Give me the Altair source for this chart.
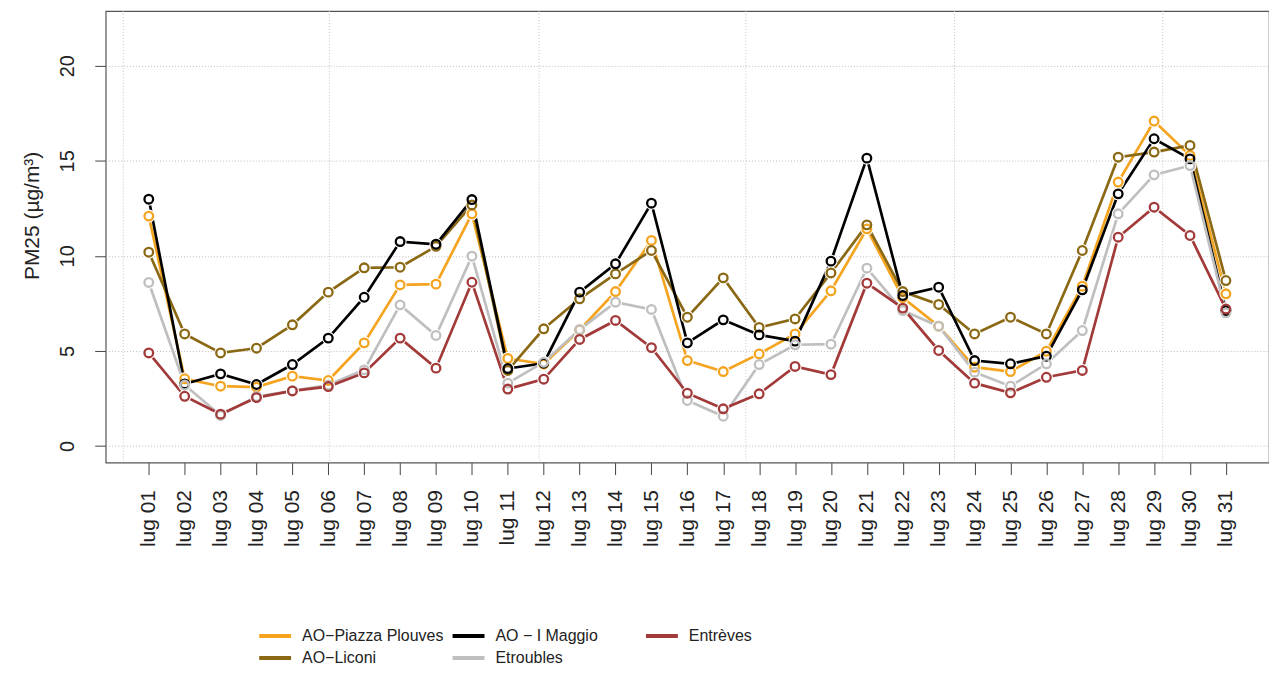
import json
import altair as alt
import pandas as pd

days = list(range(1, 32))
day_labels = [f"lug {d:02d}" for d in days]

series_names = ["AO\u2212Piazza Plouves", "AO\u2212Liconi", "AO \u2212 I Maggio", "Etroubles", "Entrèves"]
series_colors = ["#F4A41F", "#8B6914", "#000000", "#BFBFBF", "#A33A3A"]

piazza_plouves = [12.09, 3.53, 3.14, 3.09, 3.67, 3.44, 5.42, 8.47, 8.51, 12.21, 4.6, 4.3, 6.1, 8.12, 10.81,
                  4.49, 3.91, 4.84, 5.89, 8.16, 11.42, 7.8, 6.3, 4.14, 3.91, 4.98, 8.4, 13.88, 17.09, 15.28, 8.0]
liconi = [10.19, 5.89, 4.89, 5.14, 6.37, 8.09, 9.37, 9.4, 10.5, 12.68, 3.97, 6.16, 7.74, 9.05, 10.28,
          6.77, 8.84, 6.23, 6.68, 9.1, 11.63, 8.12, 7.44, 5.89, 6.77, 5.89, 10.28, 15.19, 15.46, 15.81, 8.7]
i_maggio = [12.98, 3.26, 3.79, 3.23, 4.28, 5.67, 7.82, 10.75, 10.61, 12.96, 4.07, 4.35, 8.09, 9.58, 12.77,
            5.42, 6.63, 5.84, 5.51, 9.72, 15.14, 7.91, 8.35, 4.49, 4.32, 4.72, 8.21, 13.26, 16.16, 15.1, 7.12]
etroubles = [8.6, 3.2, 1.6, 2.6, 2.9, 3.2, 4.0, 7.42, 5.81, 9.98, 3.3, 4.4, 6.12, 7.56, 7.18,
             2.39, 1.56, 4.28, 5.32, 5.35, 9.35, 7.12, 6.3, 3.88, 3.14, 4.32, 6.07, 12.21, 14.26, 14.75, 7.0]
entreves = [4.89, 2.61, 1.67, 2.54, 2.89, 3.12, 3.84, 5.67, 4.09, 8.61, 2.99, 3.51, 5.6, 6.6, 5.17,
            2.77, 1.95, 2.74, 4.18, 3.75, 8.56, 7.25, 5.02, 3.3, 2.79, 3.61, 3.97, 10.98, 12.56, 11.07, 7.2]

y_ticks = [0, 5, 10, 15, 20]
v_grid = [0.29, 6.03, 11.87, 17.63, 23.44, 29.24]

values_by_series = dict(zip(series_names, [piazza_plouves, liconi, i_maggio, etroubles, entreves]))

rows = []
for k, name in enumerate(series_names):
    for d, v in zip(days, values_by_series[name]):
        rows.append({"day": d, "series": name, "value": v, "ord": k})
df = pd.DataFrame(rows)

FONT = "Liberation Sans"

x_scale = alt.Scale(domain=[-0.2, 32.2], nice=False, zero=False)
y_scale = alt.Scale(domain=[-0.88, 22.88], nice=False, zero=False)
color_scale = alt.Scale(domain=series_names, range=series_colors)

label_expr = json.dumps(day_labels) + "[datum.value - 1]"

x_axis = alt.Axis(values=days, labelExpr=label_expr, grid=False, domain=False, tickSize=12,
                  tickColor="#444444", labelAngle=-90, labelAlign="right", labelBaseline="middle",
                  labelPadding=15, labelFontSize=21, labelColor="#222222", labelFont=FONT, title=None)
y_axis = alt.Axis(values=y_ticks, grid=True, gridDash=[1, 2], gridColor="#bdbdbd", domain=False,
                  tickSize=11, tickColor="#444444", labelAngle=-90, labelAlign="center",
                  labelBaseline="bottom", labelPadding=17, labelFontSize=20, labelColor="#222222",
                  labelFont=FONT, title="PM25 (µg/m³)", titleFont=FONT, titleFontSize=21,
                  titleFontWeight="normal", titleColor="#222222", titleAngle=-90,
                  titleX=-73, titleY=205, titleAlign="center", titleBaseline="middle")

base = alt.Chart(df)

vgrid = alt.Chart(pd.DataFrame({"g": v_grid})).mark_rule(
    color="#c4c4c4", strokeDash=[1, 2], strokeWidth=1
).encode(x=alt.X("g:Q", scale=x_scale, axis=x_axis))

lines = base.mark_line(strokeWidth=2.7).encode(
    x=alt.X("day:Q", scale=x_scale, axis=x_axis),
    y=alt.Y("value:Q", scale=y_scale, axis=y_axis),
    color=alt.Color("series:N", scale=color_scale, legend=alt.Legend(
        title=None, orient="none", legendX=160, legendY=617, columns=3, gridAlign="all",
        symbolType="M-2,0H2", symbolSize=256, symbolStrokeWidth=4, labelFontSize=16,
        labelFont=FONT, labelColor="#222222", labelOffset=17, columnPadding=1, rowPadding=4,
        padding=0, labelLimit=400, direction="vertical")),
    detail="series:N",
    order=alt.Order("day:Q"),
)

halos = base.mark_point(filled=True, color="white", opacity=1, size=170).encode(
    x=alt.X("day:Q", scale=x_scale, axis=x_axis),
    y=alt.Y("value:Q", scale=y_scale, axis=y_axis),
)

points = base.mark_point(filled=False, strokeWidth=2.3, size=75, opacity=1).encode(
    x=alt.X("day:Q", scale=x_scale, axis=x_axis),
    y=alt.Y("value:Q", scale=y_scale, axis=y_axis),
    color=alt.Color("series:N", scale=color_scale, legend=None),
)

chart = alt.layer(vgrid, lines, halos, points).properties(
    width=1167, height=453,
    background="white",
    autosize=alt.AutoSizeParams(type="none"),
    padding={"left": 98, "top": 2, "right": 0, "bottom": 205},
).configure_view(stroke="#555555", strokeWidth=1.2)

chart.save("out.html", embed_options={"renderer": "svg", "actions": False})
